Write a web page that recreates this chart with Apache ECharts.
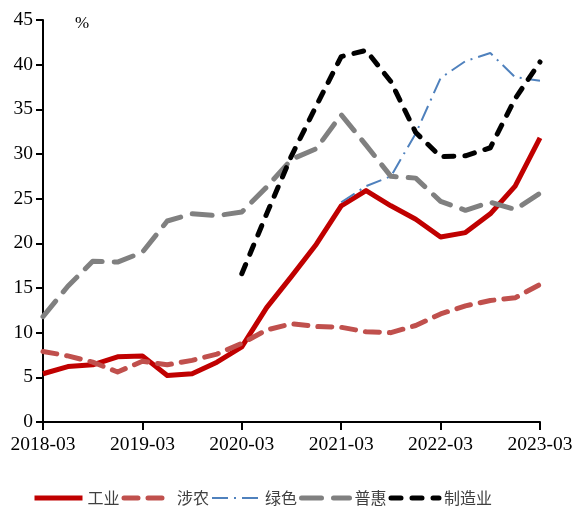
<!DOCTYPE html>
<html>
<head>
<meta charset="utf-8">
<script src="https://cdn.jsdelivr.net/npm/echarts@6/dist/echarts.min.js"></script>
<style>
  html, body { margin: 0; padding: 0; background: #fff; }
  #chart { width: 576px; height: 506px; }
</style>
</head>
<body>
<div id="chart"></div>
<script>
// 季度
const quarters = [
  "2018-03", "2018-06", "2018-09", "2018-12",
  "2019-03", "2019-06", "2019-09", "2019-12",
  "2020-03", "2020-06", "2020-09", "2020-12",
  "2021-03", "2021-06", "2021-09", "2021-12",
  "2022-03", "2022-06", "2022-09", "2022-12",
  "2023-03"
];
const industry = [5.4, 6.2, 6.4, 7.3, 7.4, 5.2, 5.4, 6.7, 8.4, 12.8, 16.3, 19.9, 24.2, 25.9, 24.2, 22.7, 20.7, 21.2, 23.3, 26.4, 31.8];
const agri = [7.9, 7.4, 6.7, 5.6, 6.8, 6.4, 6.9, 7.6, 8.8, 10.3, 11.0, 10.7, 10.6, 10.1, 10.0, 10.8, 12.1, 13.0, 13.6, 13.9, 15.4];
const green = [null, null, null, null, null, null, null, null, null, null, null, null, 24.6, 26.4, 27.5, 32.3, 38.5, 40.4, 41.3, 38.6, 38.2];
const inclusive = [11.8, 15.2, 18.0, 17.9, 19.0, 22.5, 23.3, 23.1, 23.5, 26.3, 29.4, 30.6, 34.4, 31.0, 27.5, 27.3, 24.7, 23.7, 24.6, 23.8, 25.6];
const manufacturing = [null, null, null, null, null, null, null, null, 16.6, 23.3, 29.8, 35.4, 40.9, 41.6, 38.1, 32.4, 29.7, 29.8, 30.7, 36.2, 40.3];
const yTicks = { min: 0, max: 45, interval: 5 };
const shownLabels = ["2018-03", "2019-03", "2020-03", "2021-03", "2022-03", "2023-03"];

let myChart = echarts.init(document.getElementById("chart"));

const axisFont = { fontFamily: "Liberation Serif", fontSize: 19.5, color: "#000" };

myChart.setOption({
  animation: false,
  grid: { left: 43, right: 36, top: 20, bottom: 84 },
  legend: {
    left: 27,
    top: 485,
    itemWidth: 48,
    itemHeight: 14,
    itemGap: 2,
    itemStyle: { opacity: 0 },
    lineStyle: { width: 5 },
    textStyle: { fontFamily: "Noto Sans CJK SC", fontSize: 16, color: "#404040" },
    data: ["工业", "涉农", { name: "绿色", lineStyle: { width: 2 } }, "普惠", "制造业"]
  },
  graphic: [
    { type: "text", left: 75, top: 15, style: { text: "%", font: "17px 'Liberation Serif'", fill: "#000" } }
  ],
  xAxis: {
    type: "category",
    boundaryGap: false,
    data: quarters,
    axisLine: { lineStyle: { color: "#000", width: 2 } },
    axisTick: {
      length: 8,
      lineStyle: { color: "#000", width: 2 },
      interval: function (i, v) { return shownLabels.indexOf(v) >= 0; }
    },
    axisLabel: Object.assign({
      margin: 13,
      interval: function (i, v) { return shownLabels.indexOf(v) >= 0; }
    }, axisFont),
    splitLine: { show: false }
  },
  yAxis: {
    type: "value",
    min: yTicks.min,
    max: yTicks.max,
    interval: yTicks.interval,
    axisLine: { show: true, lineStyle: { color: "#000", width: 2 } },
    axisTick: { show: true, length: 7, lineStyle: { color: "#000", width: 2 } },
    axisLabel: Object.assign({ margin: 10 }, axisFont),
    splitLine: { show: false }
  },
  series: [
    {
      name: "工业", type: "line", data: industry, symbol: "none",
      itemStyle: { color: "#C00000" },
      lineStyle: { color: "#C00000", width: 5, join: "round" }
    },
    {
      name: "涉农", type: "line", data: agri, symbol: "none",
      itemStyle: { color: "#C0504D" },
      lineStyle: { color: "#C0504D", width: 5, type: [14, 10], cap: "round", join: "round" }
    },
    {
      name: "绿色", type: "line", data: green, symbol: "none",
      itemStyle: { color: "#4F81BD" },
      lineStyle: { color: "#4F81BD", width: 2, type: [16, 6, 2, 6] }
    },
    {
      name: "普惠", type: "line", data: inclusive, symbol: "none",
      itemStyle: { color: "#808080" },
      lineStyle: { color: "#808080", width: 5, type: [20, 12], cap: "round", join: "round" }
    },
    {
      name: "制造业", type: "line", data: manufacturing, symbol: "none",
      itemStyle: { color: "#000" },
      lineStyle: { color: "#000", width: 5, type: [10, 11], cap: "round", join: "round" }
    }
  ]
});

window.onresize = function () {
  myChart.resize();
};
</script>
</body>
</html>
